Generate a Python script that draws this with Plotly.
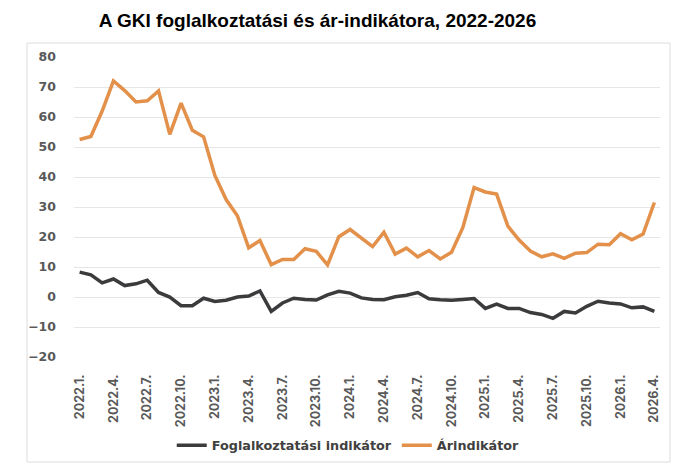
import plotly.graph_objects as go

months = [f"{y}.{m}." for y in range(2022, 2027) for m in range(1, 13)][:52]

foglalkoztatasi = [8.3, 7.4, 4.7, 6.0, 3.8, 4.4, 5.6, 1.5, 0.0, -2.9, -2.9, -0.4,
                   -1.5, -1.1, 0.0, 0.3, 2.0, -4.8, -2.0, -0.4, -0.8, -1.0, 0.7, 1.9,
                   1.3, -0.3, -0.8, -0.9, 0.1, 0.6, 1.5, -0.6, -0.9, -1.1, -0.8, -0.5,
                   -3.8, -2.4, -3.8, -3.8, -5.2, -5.8, -7.1, -4.8, -5.3, -3.1, -1.4, -2.0,
                   -2.3, -3.6, -3.3, -4.8]

arindikator = [52.5, 53.5, 62.0, 72.0, 68.8, 65.0, 65.4, 68.7, 54.2, 64.6, 55.6, 53.4,
               40.5, 32.5, 27.1, 16.4, 18.8, 10.8, 12.5, 12.5, 16.1, 15.2, 10.7, 20.1,
               22.5, 19.7, 16.8, 21.6, 14.3, 16.3, 13.4, 15.5, 12.7, 14.9, 23.1, 36.5,
               35.0, 34.3, 23.6, 19.0, 15.3, 13.4, 14.4, 12.9, 14.6, 14.8, 17.6, 17.4,
               21.1, 19.1, 21.0, 31.5]

series_names = ["Foglalkoztatási indikátor", "Árindikátor"]
series_colors = ["#3B3B3D", "#E3904A"]

x_idx = list(range(len(months)))
tick_step = 3
tickvals = x_idx[::tick_step]
ticktext = months[::tick_step]
y_ticks = list(range(-20, 81, 10))

W, H = 682, 468
L, R, T, B = 66, 30, 49, 119
PW, PH = W - L - R, H - T - B

xlabel_font = dict(family="Inter, Noto Sans, sans-serif", size=12.5, color="#595959", weight=700)
ylabel_font = dict(family="DejaVu Sans, sans-serif", size=12.5, color="#595959", weight=700)

fig = go.Figure()
for name, vals, col in zip(series_names, [foglalkoztatasi, arindikator], series_colors):
    fig.add_trace(go.Scatter(x=x_idx, y=vals, mode="lines", name=name,
                             line=dict(color=col, width=3.5, shape="linear")))

fig.update_layout(
    width=W, height=H,
    margin=dict(l=L, r=R, t=T, b=B),
    paper_bgcolor="white", plot_bgcolor="white",
    title=dict(text="<b>A GKI foglalkoztatási és ár-indikátora, 2022-2026</b>",
               x=309.5 / W, xanchor="center", y=1 - 12 / H, yanchor="middle",
               font=dict(family="Liberation Sans, Arial, sans-serif", size=19, color="black")),
    xaxis=dict(range=[-0.5, len(months) - 0.5], tickmode="array", tickvals=tickvals,
               ticktext=ticktext, tickangle=-90, showgrid=False, zeroline=False,
               showline=False, ticks="", tickfont=xlabel_font, ticklabelstandoff=14),
    xaxis2=dict(overlaying="x", anchor="free", position=(0 - y_ticks[0]) / (y_ticks[-1] - y_ticks[0]),
                range=[-0.5, len(months) - 0.5], tickmode="array",
                tickvals=[v - 0.5 for v in tickvals], showticklabels=False,
                ticks="outside", ticklen=5, tickcolor="#d9d9d9", tickwidth=1,
                showgrid=False, zeroline=False, showline=False),
    yaxis=dict(range=[y_ticks[0], y_ticks[-1]], tickmode="array", tickvals=y_ticks,
               showgrid=True, gridcolor="#e6e6e6", gridwidth=1, zeroline=False,
               showline=False, ticks="", tickfont=ylabel_font, ticklabelstandoff=17),
    legend=dict(orientation="h", x=0.468, xanchor="center", y=-0.295, yanchor="middle",
                font=dict(family="DejaVu Sans, sans-serif", size=12.8, color="#404040", weight=700),
                itemwidth=30, tracegroupgap=0),
    showlegend=True,
)

fig.add_shape(type="rect", xref="paper", yref="paper",
              x0=(19 - L) / PW, x1=(662 - L) / PW, y0=(H - B - 454) / PH, y1=(H - B - 35) / PH,
              line=dict(color="#dcdcdc", width=1), fillcolor="rgba(0,0,0,0)", layer="below")

fig.write_html("out.html")
